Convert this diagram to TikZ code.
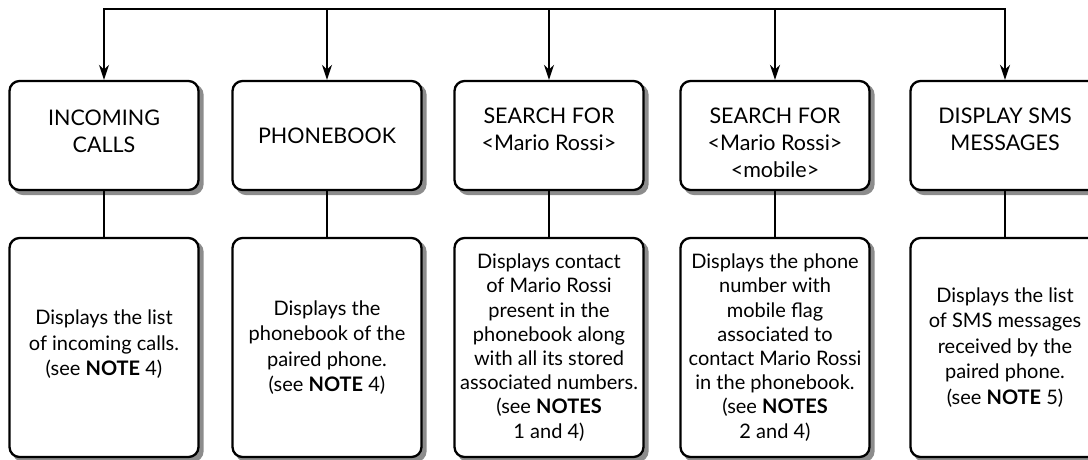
\documentclass[tikz,border=0pt]{standalone}
\usepackage{fontspec}
\setmainfont{Lato}
\usetikzlibrary{arrows.meta,shadows}
\tikzset{
  box/.style={draw=black, line width=2.3pt, rounded corners=10pt, fill=white,
    minimum width=189pt, inner sep=0pt,
    drop shadow={shadow xshift=4pt, shadow yshift=-4pt, fill=black!45, draw=black!45, line width=2.3pt, opacity=1}},
  topbox/.style={box, minimum height=109pt},
  botbox/.style={box, minimum height=219pt},
  toptext/.style={align=center, font=\fontsize{21.5}{27}\selectfont, inner sep=0pt},
  bottext/.style={align=center, font=\fontsize{20}{25.5}\selectfont, inner sep=0pt},
  tightbot/.style={bottext, font=\fontsize{20}{24.2}\selectfont},
  conn/.style={line width=2.2pt},
  arr/.style={conn, -{Stealth[length=15pt,width=10pt]}},
}
\begin{document}
\begin{tikzpicture}[x=1pt,y=-1pt]
\useasboundingbox (0,0) rectangle (1088,459);
\clip (0,0) rectangle (1088,459);
% top boxes
\node[topbox] (t1) at (104,135.5) {};
\node[topbox] (t2) at (327,135.5) {};
\node[topbox] (t3) at (549,135.5) {};
\node[topbox] (t4) at (775,135.5) {};
\node[topbox] (t5) at (1005,135.5) {};
% bottom boxes
\node[botbox] (b1) at (104,347.5) {};
\node[botbox] (b2) at (327,347.5) {};
\node[botbox] (b3) at (549,347.5) {};
\node[botbox] (b4) at (775,347.5) {};
\node[botbox] (b5) at (1005,347.5) {};
% top texts
\node[toptext, anchor=north] (tt1) at ([yshift=-30pt]t1.north) {INCOMING\\CALLS};
\node[toptext] (tt2) at (t2.center) {PHONEBOOK};
\node[toptext, anchor=north] (tt3) at ([yshift=-28pt]t3.north) {SEARCH FOR\\<Mario Rossi>};
\node[toptext, anchor=north] (tt4) at ([yshift=-28pt]t4.north) {SEARCH FOR\\<Mario Rossi>\\<mobile>};
\node[toptext, anchor=north] (tt5) at ([yshift=-28pt]t5.north) {DISPLAY SMS\\MESSAGES};
% bottom texts
\node[bottext] (bt1) at ([yshift=3pt]b1.center) {Displays the list\\of incoming calls.\\(see \textbf{NOTE} 4)};
\node[bottext] (bt2) at (b2.center) {Displays the\\phonebook of the\\paired phone.\\(see \textbf{NOTE} 4)};
\node[tightbot] (bt3) at (b3.center) {Displays contact\\of Mario Rossi\\present in the\\phonebook along\\with all its stored\\associated numbers.\\(see \textbf{NOTES}\\1 and 4)};
\node[tightbot] (bt4) at (b4.center) {Displays the phone\\number with\\mobile flag\\associated to\\contact Mario Rossi\\in the phonebook.\\(see \textbf{NOTES}\\2 and 4)};
\node[bottext] (bt5) at (b5.center) {Displays the list\\of SMS messages\\received by the\\paired phone.\\(see \textbf{NOTE} 5)};
% bus
\coordinate (c1) at (t1.north |- 0,9);
\coordinate (c2) at (t2.north |- 0,9);
\coordinate (c3) at (t3.north |- 0,9);
\coordinate (c4) at (t4.north |- 0,9);
\coordinate (c5) at (t5.north |- 0,9);
\draw[conn, {Stealth[length=15pt,width=10pt]}-{Stealth[length=15pt,width=10pt]}, line join=miter] (t1.north) -- (c1) -- (c5) -- (t5.north);
\draw[arr] (c2) -- (t2.north);
\draw[arr] (c3) -- (t3.north);
\draw[arr] (c4) -- (t4.north);
% vertical links
\foreach \i in {1,...,5} \draw[conn] (t\i.south) -- (b\i.north);
\end{tikzpicture}
\end{document}
